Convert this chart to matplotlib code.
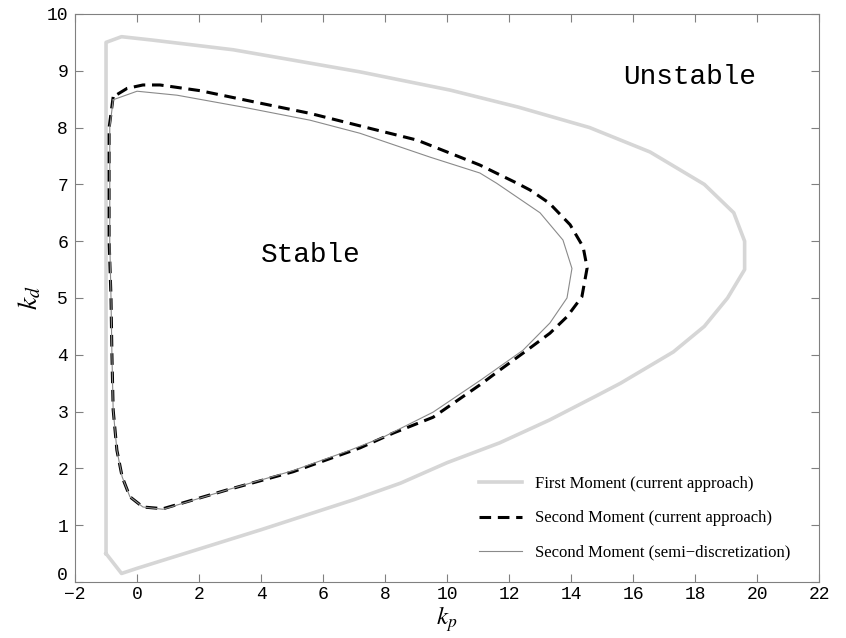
import matplotlib
matplotlib.use("Agg")
import matplotlib.pyplot as plt
import matplotlib.transforms as mtransforms

# --- data (k_p, k_d) ---
first_kp = [-1.0, -0.5, 0.0, 2.0, 4.0, 7.0, 8.5, 10.0, 11.7, 13.3, 14.9, 15.6, 17.3, 18.3,
            19.05, 19.6, 19.6, 19.25, 18.3, 16.55, 14.6, 12.3, 10.1, 7.2, 5.0, 3.1, 0.5,
            -0.5, -1.0, -1.0]
first_kd = [0.5, 0.15, 0.24, 0.58, 0.92, 1.45, 1.74, 2.1, 2.45, 2.85, 3.3, 3.5, 4.05, 4.5,
            5.0, 5.5, 6.0, 6.5, 7.0, 7.57, 8.0, 8.36, 8.66, 8.98, 9.19, 9.37, 9.54,
            9.6, 9.5, 0.5]

second_kp = [-0.77, -0.9, -0.9, -0.84, -0.81, -0.77, -0.65, -0.48, -0.23, 0.19, 0.84, 2.9,
             5.03, 7.19, 8.26, 9.55, 11.06, 11.7, 12.58, 13.32, 13.87, 14.35, 14.52, 14.39,
             13.97, 13.3, 12.68, 12.26, 11.06, 10.42, 9.03, 7.19, 5.58, 3.97, 2.03, 0.74,
             0.19, -0.32, -0.77]
second_kd = [8.54, 8.0, 6.0, 5.0, 4.0, 3.03, 2.32, 1.85, 1.5, 1.32, 1.29, 1.62,
             1.94, 2.36, 2.62, 2.9, 3.47, 3.73, 4.08, 4.38, 4.67, 5.02, 5.53, 5.9,
             6.29, 6.67, 6.9, 7.02, 7.34, 7.48, 7.78, 8.03, 8.25, 8.43, 8.65, 8.75,
             8.75, 8.69, 8.54]

semi_kp = [-0.77, -0.88, -0.88, -0.84, -0.81, -0.77, -0.65, -0.48, -0.23, 0.19, 0.84, 2.9,
           5.03, 6.87, 7.94, 9.55, 11.1, 12.45, 13.32, 13.87, 14.03, 13.74, 13.0, 11.6,
           11.06, 9.45, 7.19, 5.58, 3.42, 1.29, 0.0, -0.77]
semi_kd = [8.49, 8.0, 6.0, 5.0, 4.0, 3.03, 2.32, 1.85, 1.5, 1.32, 1.28, 1.62,
           1.96, 2.32, 2.55, 2.99, 3.56, 4.08, 4.56, 5.0, 5.52, 6.02, 6.5, 7.02,
           7.2, 7.48, 7.9, 8.13, 8.36, 8.57, 8.64, 8.49]

labels = ["First Moment (current approach)",
          "Second Moment (current approach)",
          "Second Moment (semi\u2212discretization)"]
xticks = list(range(-2, 23, 2))
yticks = list(range(0, 11))

plt.rcParams["mathtext.fontset"] = "stix"

fig = plt.figure(figsize=(8.46, 6.38), dpi=100)
ax = fig.add_axes([0.0887, 0.0878, 0.8794, 0.8903])

ax.plot(first_kp, first_kd, color="#d6d6d6", linewidth=2.6, label=labels[0])
ax.plot(second_kp, second_kd, color="black", linewidth=2.2, linestyle=(0, (3.8, 2.2)),
        label=labels[1])
ax.plot(semi_kp, semi_kd, color="#8a8a8a", linewidth=0.8, label=labels[2])

ax.set_xlim(-2, 22)
ax.set_ylim(0, 10)
ax.set_xticks(xticks)
ax.set_yticks(yticks)
ax.tick_params(direction="in", top=True, right=True, length=6, color="#808080",
               labelsize=13)
ax.tick_params(axis="x", pad=3)
ax.tick_params(axis="y", pad=5)
for lab in ax.get_xticklabels() + ax.get_yticklabels():
    lab.set_family("Liberation Mono")
for s in ax.spines.values():
    s.set_color("#808080")

# nudge the y "0" up a little so it clears the x "-2" (as in the original)
zero_lab = ax.yaxis.get_major_ticks()[0].label1
zero_lab.set_transform(zero_lab.get_transform() +
                       mtransforms.ScaledTranslation(0, 6 / 72, fig.dpi_scale_trans))

ax.set_xlabel(r"$k_p$", fontsize=18, labelpad=1)
ax.set_ylabel(r"$k_d$", fontsize=20, labelpad=2)

ax.text(17.84, 8.89, "Unstable", family="Liberation Mono", fontsize=20,
        ha="center", va="center")
ax.text(5.61, 5.76, "Stable", family="Liberation Mono", fontsize=20,
        ha="center", va="center")

leg = ax.legend(loc="lower right", frameon=False, handlelength=2.6,
                labelspacing=1.1, prop={"family": "Liberation Serif", "size": 12},
                bbox_to_anchor=(0.982, 0.011))

fig.savefig("out.png", dpi=100)
plt.close(fig)
